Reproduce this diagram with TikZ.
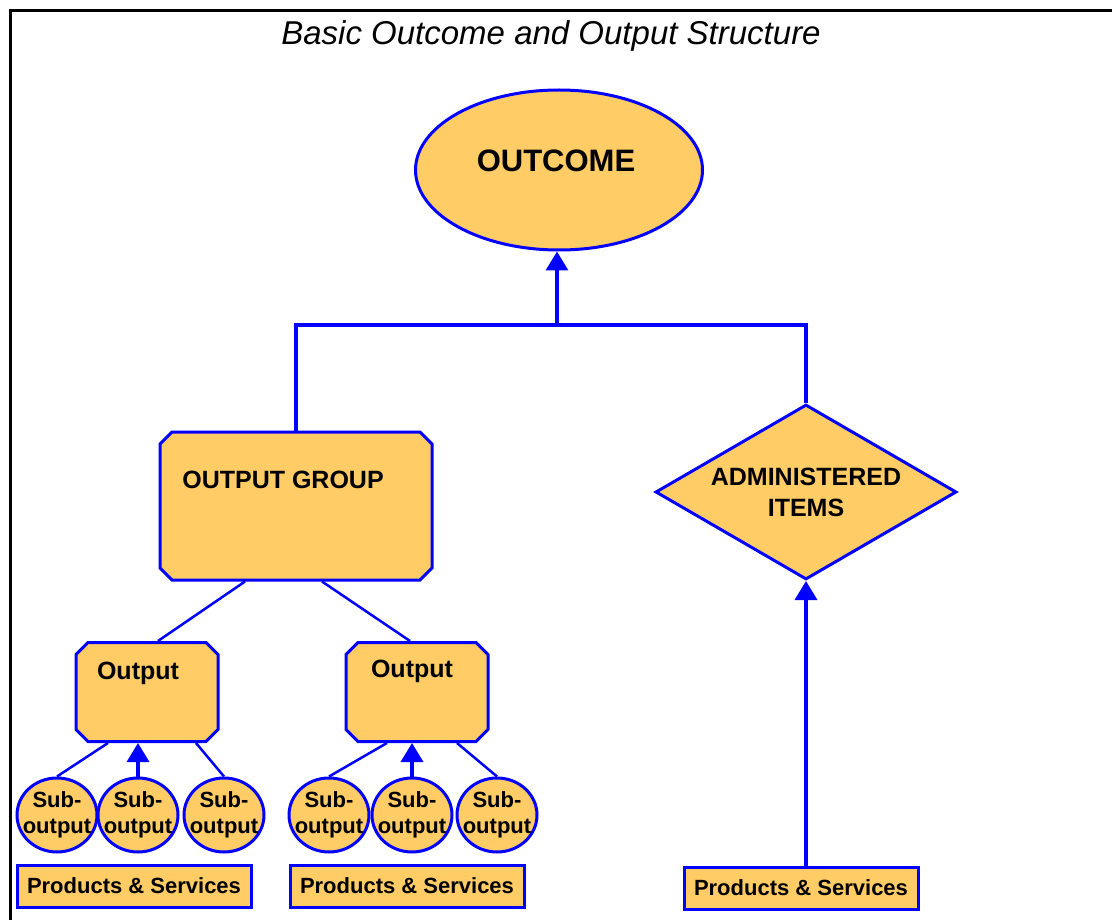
\documentclass[tikz,border=0pt]{standalone}
\usepackage{fontspec}
\setmainfont{Liberation Sans}
\usetikzlibrary{shapes.geometric,shapes.misc,arrows.meta}

\definecolor{cor_fill}{RGB}{255,204,102}
\definecolor{cor_line}{RGB}{0,0,255}
\newcommand{\tam}[2]{\fontsize{#1}{#2}\selectfont}

\begin{document}
\begin{tikzpicture}[x=1pt,y=-1pt]
        \tikzset{
            obox/.style 2 args={
                chamfered rectangle,
                chamfered rectangle xsep=6pt,
                chamfered rectangle ysep=6pt,
                draw=cor_line,
                fill=cor_fill,
                line width=3pt,
                minimum width=0pt,
                minimum height=0pt,
                inner xsep=#1,
                inner ysep=#2
            },
            pbox/.style={
                draw=cor_line,
                fill=cor_fill,
                line width=3pt,
                inner sep=0pt,
                minimum width=234pt,
                minimum height=42pt,
                font=\tam{22}{26}\bfseries
            },
            subc/.style={
                ellipse,
                draw=cor_line,
                fill=cor_fill,
                line width=3pt,
                inner sep=0pt,
                minimum width=80pt,
                minimum height=74pt,
                label={[font=\tam{22}{26}\bfseries, align=center, inner sep=0pt]center:Sub-\\output}
            },
            txt/.style={font=\tam{#1}{#1}\bfseries, inner sep=0pt},
            bar/.style={cor_line, line width=4.5pt},
            conn/.style={cor_line, line width=2.5pt},
            arr/.style={cor_line, line width=3.5pt, -{Triangle[length=19pt,width=22pt]}}
        }
        \useasboundingbox (0,0) rectangle (1112,920);
        \draw[black, line width=3pt] (10.5,920) -- (10.5,10.5) -- (1112,10.5);

        \node[font=\tam{33}{40}\itshape] (titulo) at (551,36) {Basic Outcome and Output Structure};

        % topo
        \node[ellipse, draw=cor_line, fill=cor_fill, line width=3pt,
              minimum width=287pt, minimum height=160pt] (outcome) at (559,170) {};
        \node[txt=31] (outcometxt) at (556,161) {OUTCOME};

        % grupo e itens
        \node[obox={130pt}{68pt}] (grp) at (296,506) {};
        \node[txt=25] (grptxt) at (283,480) {OUTPUT GROUP};
        \node[diamond, aspect=1.72, draw=cor_line, fill=cor_fill, line width=3pt,
              minimum width=301pt, minimum height=175pt, inner sep=0pt,
              align=center, font=\tam{25}{31}\bfseries] (admin) at (806,492) {ADMINISTERED\\ITEMS};

        % outputs
        \node[obox={65pt}{43.5pt}] (out1) at (147,692) {};
        \node[obox={65pt}{43.5pt}] (out2) at (417,692) {};
        \node[txt=25] (out1txt) at (138,673) {Output};
        \node[txt=25] (out2txt) at (412,671) {Output};

        \foreach \i/\x in {1/57,2/138,3/224,4/329,5/412,6/497} {
            \node[subc] (sub\i) at (\x,815) {};
        }

        \node[pbox] (ps1) at (134,886) {Products \& Services};
        \node[pbox] (ps2) at (407,886) {Products \& Services};
        \node[pbox] (ps3) at (801,888) {Products \& Services};

        % ligacoes
        \coordinate (barra) at (557,325);
        \draw[bar] (grp.north) |- (barra) -| (admin.north);
        \draw[arr] (barra) -- (barra |- outcome.south);
        \draw[conn] ([xshift=-51pt]grp.south) -- ([xshift=11pt]out1.north);
        \draw[conn] ([xshift=26pt]grp.south) -- ([xshift=-7pt]out2.north);

        \draw[conn] ([xshift=-39pt]out1.south) -- (sub1.north);
        \draw[arr] (sub2.north) -- (sub2.north |- out1.south);
        \draw[conn] ([xshift=49pt]out1.south) -- (sub3.north);
        \draw[conn] ([xshift=-30pt]out2.south) -- (sub4.north);
        \draw[arr] (sub5.north) -- (sub5.north |- out2.south);
        \draw[conn] ([xshift=40pt]out2.south) -- (sub6.north);

        \draw[arr] (ps3.north -| admin.south) -- (admin.south);

    \end{tikzpicture}
\end{document}
